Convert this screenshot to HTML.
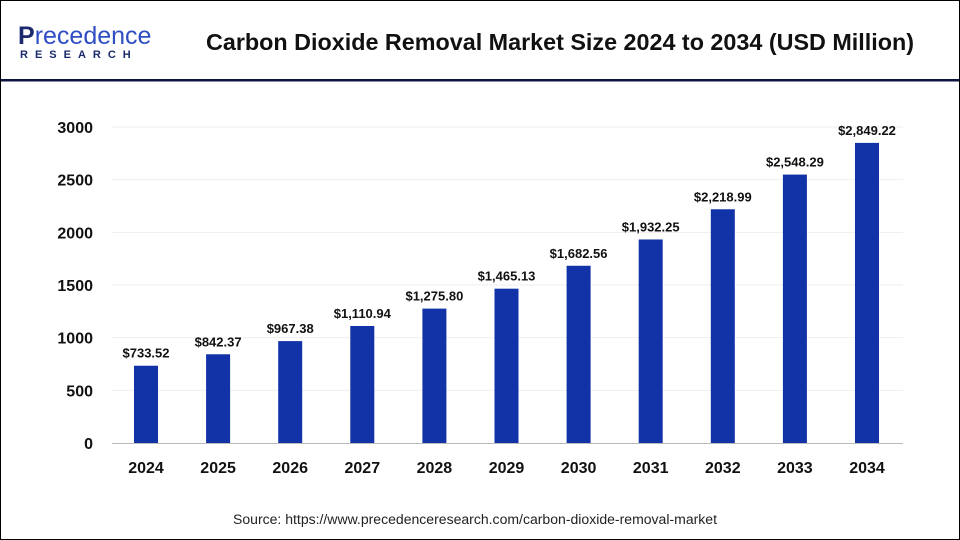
<!DOCTYPE html>
<html><head><meta charset="utf-8"><style>
body{margin:0;background:#fff}
#wrap{position:relative;width:960px;height:540px;box-sizing:border-box;border:1px solid #000;background:#fff;font-family:"Liberation Sans",sans-serif;overflow:hidden}
</style></head><body>
<div id="wrap">
<svg id="svg" width="958" height="538" viewBox="1 1 958 538" xmlns="http://www.w3.org/2000/svg">
<g>
<text x="18" y="44" font-size="25" fill="#1a2a6c" font-family="Liberation Sans"><tspan font-weight="bold">P</tspan><tspan fill="#2f4ec4">recedence</tspan></text>
<text x="20" y="58" font-size="11" font-weight="bold" fill="#1a2a6c" letter-spacing="7">RESEARCH</text>
</g>
<text x="560" y="50" text-anchor="middle" font-size="23" font-weight="bold" fill="#111" textLength="708" lengthAdjust="spacingAndGlyphs">Carbon Dioxide Removal Market Size 2024 to 2034 (USD Million)</text>
<rect x="1" y="79" width="958" height="2.5" fill="#0d1440"/>
<g id="grid"></g><g id="bars"></g>
<text x="475" y="524" text-anchor="middle" font-size="13.5" fill="#222" textLength="484" lengthAdjust="spacingAndGlyphs">Source: https://www.precedenceresearch.com/carbon-dioxide-removal-market</text>
</svg>
</div>
<script>
const categories=["2024","2025","2026","2027","2028","2029","2030","2031","2032","2033","2034"];
const values=[733.52,842.37,967.38,1110.94,1275.80,1465.13,1682.56,1932.25,2218.99,2548.29,2849.22];
const valueLabels=["$733.52","$842.37","$967.38","$1,110.94","$1,275.80","$1,465.13","$1,682.56","$1,932.25","$2,218.99","$2,548.29","$2,849.22"];
const yTicks=[0,500,1000,1500,2000,2500,3000];
const NS="http://www.w3.org/2000/svg";
const y=v=>443-v*(316/3000);
const x=i=>146+i*72.1;
const grid=document.getElementById('grid'),bars=document.getElementById('bars');
function mk(t,a,p){const e=document.createElementNS(NS,t);for(const k in a)e.setAttribute(k,a[k]);p.appendChild(e);return e;}
yTicks.forEach(t=>{
 if(t>0){const l=mk('line',{x1:112,x2:903,y1:y(t),y2:y(t),stroke:'#eeeeee','stroke-width':1},grid);
 
 }
 const tx=mk('text',{x:93,y:y(t)+6,'text-anchor':'end','font-size':16,'font-weight':'bold',fill:'#111'},grid);
 tx.textContent=t;
 
 
});
const ax=mk('line',{x1:112,x2:903,y1:443.5,y2:443.5,stroke:'#bbb','stroke-width':1},grid);


categories.forEach((c,i)=>{
 const r=mk('rect',{x:x(i)-12,y:y(values[i]),width:24,height:443-y(values[i]),fill:'#1232a8'},bars);
 
 
 const v=mk('text',{x:x(i),y:y(values[i])-8,'text-anchor':'middle','font-size':13,'font-weight':'bold',fill:'#111'},bars);
 v.textContent=valueLabels[i];
 
 
 const t=mk('text',{x:x(i),y:473,'text-anchor':'middle','font-size':16,'font-weight':'bold',fill:'#111'},bars);
 t.textContent=c;
 
 
});
</script>
</body></html>
